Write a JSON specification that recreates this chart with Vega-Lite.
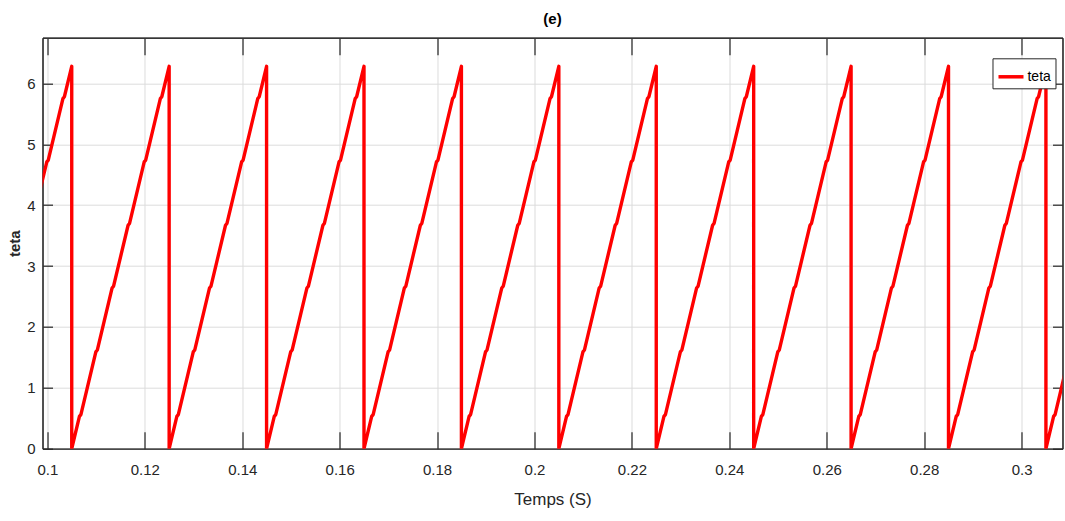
{
  "$schema": "https://vega.github.io/schema/vega-lite/v6.json",
  "width": 1020,
  "height": 411,
  "autosize": {"type": "none"},
  "padding": {"left": 42.5, "top": 37.7, "right": 2, "bottom": 72},
  "background": "white",
  "config": {
    "font": "Liberation Sans Narrow, Liberation Sans, Arial",
    "view": {"stroke": "#262626", "strokeWidth": 1}
  },
  "title": {"text": "(e)", "fontSize": 15, "fontWeight": "bold", "color": "#000000", "anchor": "middle", "offset": 10},
  "data": {"values": [
    {"t": 0.09687, "teta": 3.70}, {"t": 0.09988, "teta": 4.71}, {"t": 0.10018, "teta": 4.74}, {"t": 0.10319, "teta": 5.75}, {"t": 0.10349, "teta": 5.78}, {"t": 0.105, "teta": 6.28}, {"t": 0.105, "teta": 0},
    {"t": 0.10658, "teta": 0.53}, {"t": 0.10688, "teta": 0.56}, {"t": 0.10995, "teta": 1.59}, {"t": 0.11025, "teta": 1.62}, {"t": 0.11329, "teta": 2.64}, {"t": 0.11359, "teta": 2.67}, {"t": 0.11657, "teta": 3.67}, {"t": 0.11687, "teta": 3.70}, {"t": 0.11988, "teta": 4.71}, {"t": 0.12018, "teta": 4.74}, {"t": 0.12319, "teta": 5.75}, {"t": 0.12349, "teta": 5.78}, {"t": 0.125, "teta": 6.28}, {"t": 0.125, "teta": 0},
    {"t": 0.12658, "teta": 0.53}, {"t": 0.12688, "teta": 0.56}, {"t": 0.12995, "teta": 1.59}, {"t": 0.13025, "teta": 1.62}, {"t": 0.13329, "teta": 2.64}, {"t": 0.13359, "teta": 2.67}, {"t": 0.13657, "teta": 3.67}, {"t": 0.13687, "teta": 3.70}, {"t": 0.13988, "teta": 4.71}, {"t": 0.14018, "teta": 4.74}, {"t": 0.14319, "teta": 5.75}, {"t": 0.14349, "teta": 5.78}, {"t": 0.145, "teta": 6.28}, {"t": 0.145, "teta": 0},
    {"t": 0.14658, "teta": 0.53}, {"t": 0.14688, "teta": 0.56}, {"t": 0.14995, "teta": 1.59}, {"t": 0.15025, "teta": 1.62}, {"t": 0.15329, "teta": 2.64}, {"t": 0.15359, "teta": 2.67}, {"t": 0.15657, "teta": 3.67}, {"t": 0.15687, "teta": 3.70}, {"t": 0.15988, "teta": 4.71}, {"t": 0.16018, "teta": 4.74}, {"t": 0.16319, "teta": 5.75}, {"t": 0.16349, "teta": 5.78}, {"t": 0.165, "teta": 6.28}, {"t": 0.165, "teta": 0},
    {"t": 0.16658, "teta": 0.53}, {"t": 0.16688, "teta": 0.56}, {"t": 0.16995, "teta": 1.59}, {"t": 0.17025, "teta": 1.62}, {"t": 0.17329, "teta": 2.64}, {"t": 0.17359, "teta": 2.67}, {"t": 0.17657, "teta": 3.67}, {"t": 0.17687, "teta": 3.70}, {"t": 0.17988, "teta": 4.71}, {"t": 0.18018, "teta": 4.74}, {"t": 0.18319, "teta": 5.75}, {"t": 0.18349, "teta": 5.78}, {"t": 0.185, "teta": 6.28}, {"t": 0.185, "teta": 0},
    {"t": 0.18658, "teta": 0.53}, {"t": 0.18688, "teta": 0.56}, {"t": 0.18995, "teta": 1.59}, {"t": 0.19025, "teta": 1.62}, {"t": 0.19329, "teta": 2.64}, {"t": 0.19359, "teta": 2.67}, {"t": 0.19657, "teta": 3.67}, {"t": 0.19687, "teta": 3.70}, {"t": 0.19988, "teta": 4.71}, {"t": 0.20018, "teta": 4.74}, {"t": 0.20319, "teta": 5.75}, {"t": 0.20349, "teta": 5.78}, {"t": 0.205, "teta": 6.28}, {"t": 0.205, "teta": 0},
    {"t": 0.20658, "teta": 0.53}, {"t": 0.20688, "teta": 0.56}, {"t": 0.20995, "teta": 1.59}, {"t": 0.21025, "teta": 1.62}, {"t": 0.21329, "teta": 2.64}, {"t": 0.21359, "teta": 2.67}, {"t": 0.21657, "teta": 3.67}, {"t": 0.21687, "teta": 3.70}, {"t": 0.21988, "teta": 4.71}, {"t": 0.22018, "teta": 4.74}, {"t": 0.22319, "teta": 5.75}, {"t": 0.22349, "teta": 5.78}, {"t": 0.225, "teta": 6.28}, {"t": 0.225, "teta": 0},
    {"t": 0.22658, "teta": 0.53}, {"t": 0.22688, "teta": 0.56}, {"t": 0.22995, "teta": 1.59}, {"t": 0.23025, "teta": 1.62}, {"t": 0.23329, "teta": 2.64}, {"t": 0.23359, "teta": 2.67}, {"t": 0.23657, "teta": 3.67}, {"t": 0.23687, "teta": 3.70}, {"t": 0.23988, "teta": 4.71}, {"t": 0.24018, "teta": 4.74}, {"t": 0.24319, "teta": 5.75}, {"t": 0.24349, "teta": 5.78}, {"t": 0.245, "teta": 6.28}, {"t": 0.245, "teta": 0},
    {"t": 0.24658, "teta": 0.53}, {"t": 0.24688, "teta": 0.56}, {"t": 0.24995, "teta": 1.59}, {"t": 0.25025, "teta": 1.62}, {"t": 0.25329, "teta": 2.64}, {"t": 0.25359, "teta": 2.67}, {"t": 0.25657, "teta": 3.67}, {"t": 0.25687, "teta": 3.70}, {"t": 0.25988, "teta": 4.71}, {"t": 0.26018, "teta": 4.74}, {"t": 0.26319, "teta": 5.75}, {"t": 0.26349, "teta": 5.78}, {"t": 0.265, "teta": 6.28}, {"t": 0.265, "teta": 0},
    {"t": 0.26658, "teta": 0.53}, {"t": 0.26688, "teta": 0.56}, {"t": 0.26995, "teta": 1.59}, {"t": 0.27025, "teta": 1.62}, {"t": 0.27329, "teta": 2.64}, {"t": 0.27359, "teta": 2.67}, {"t": 0.27657, "teta": 3.67}, {"t": 0.27687, "teta": 3.70}, {"t": 0.27988, "teta": 4.71}, {"t": 0.28018, "teta": 4.74}, {"t": 0.28319, "teta": 5.75}, {"t": 0.28349, "teta": 5.78}, {"t": 0.285, "teta": 6.28}, {"t": 0.285, "teta": 0},
    {"t": 0.28658, "teta": 0.53}, {"t": 0.28688, "teta": 0.56}, {"t": 0.28995, "teta": 1.59}, {"t": 0.29025, "teta": 1.62}, {"t": 0.29329, "teta": 2.64}, {"t": 0.29359, "teta": 2.67}, {"t": 0.29657, "teta": 3.67}, {"t": 0.29687, "teta": 3.70}, {"t": 0.29988, "teta": 4.71}, {"t": 0.30018, "teta": 4.74}, {"t": 0.30319, "teta": 5.75}, {"t": 0.30349, "teta": 5.78}, {"t": 0.305, "teta": 6.28}, {"t": 0.305, "teta": 0},
    {"t": 0.30658, "teta": 0.53}, {"t": 0.30688, "teta": 0.56}, {"t": 0.30995, "teta": 1.59}, {"t": 0.31025, "teta": 1.62}
  ]},
  "layer": [
    {
      "mark": {"type": "line", "clip": true, "strokeWidth": 3.4, "strokeJoin": "round"},
      "encoding": {
        "x": {"field": "t", "type": "quantitative",
          "scale": {"domain": [0.099, 0.3084], "nice": false, "zero": false},
          "axis": {"values": [0.1, 0.12, 0.14, 0.16, 0.18, 0.2, 0.22, 0.24, 0.26, 0.28, 0.3], "format": "~g",
            "title": "Temps (S)", "titleFontSize": 17, "titleFontWeight": "normal", "titleColor": "#262626", "titlePadding": 14,
            "labelFontSize": 15, "labelColor": "#262626", "tickSize": -17, "tickColor": "#262626", "tickWidth": 1.2, "labelPadding": 31,
            "domainColor": "#262626", "domainWidth": 1.2, "gridColor": "#dcdcdc", "gridWidth": 1, "labelFlush": false}},
        "y": {"field": "teta", "type": "quantitative",
          "scale": {"domain": [0, 6.75], "nice": false},
          "axis": {"values": [0, 1, 2, 3, 4, 5, 6], "title": "teta", "titleFontSize": 15, "titleFontWeight": "bold", "titleColor": "#262626", "titlePadding": 4,
            "labelFontSize": 15, "labelColor": "#262626", "tickSize": -10, "tickColor": "#262626", "tickWidth": 1.2, "labelPadding": 17.5,
            "domainColor": "#262626", "domainWidth": 1.2, "gridColor": "#dcdcdc", "gridWidth": 1}},
        "color": {"datum": "teta", "type": "nominal",
          "scale": {"range": ["#ff0000"]},
          "legend": {"orient": "none", "legendX": 950, "legendY": 20.6, "title": null,
            "fillColor": "white", "strokeColor": "#262626", "padding": 4,
            "symbolType": "stroke", "symbolSize": 625, "symbolStrokeWidth": 3.5,
            "labelFontSize": 14, "labelColor": "#000000", "labelOffset": 2}},
        "order": {"value": null}
      }
    },
    {
      "mark": {"type": "line", "opacity": 0, "clip": true},
      "encoding": {
        "x": {"field": "t", "type": "quantitative",
          "axis": {"orient": "top", "values": [0.1, 0.12, 0.14, 0.16, 0.18, 0.2, 0.22, 0.24, 0.26, 0.28, 0.3], "labels": false, "title": null, "grid": false,
            "tickSize": -17, "tickColor": "#262626", "tickWidth": 1.2, "domainColor": "#262626", "domainWidth": 1.2}},
        "y": {"field": "teta", "type": "quantitative",
          "axis": {"orient": "right", "values": [0, 1, 2, 3, 4, 5, 6], "labels": false, "title": null, "grid": false,
            "tickSize": -10, "tickColor": "#262626", "tickWidth": 1.2, "domainColor": "#262626", "domainWidth": 1.2}},
        "order": {"value": null}
      }
    }
  ],
  "resolve": {"axis": {"x": "independent", "y": "independent"}}
}
